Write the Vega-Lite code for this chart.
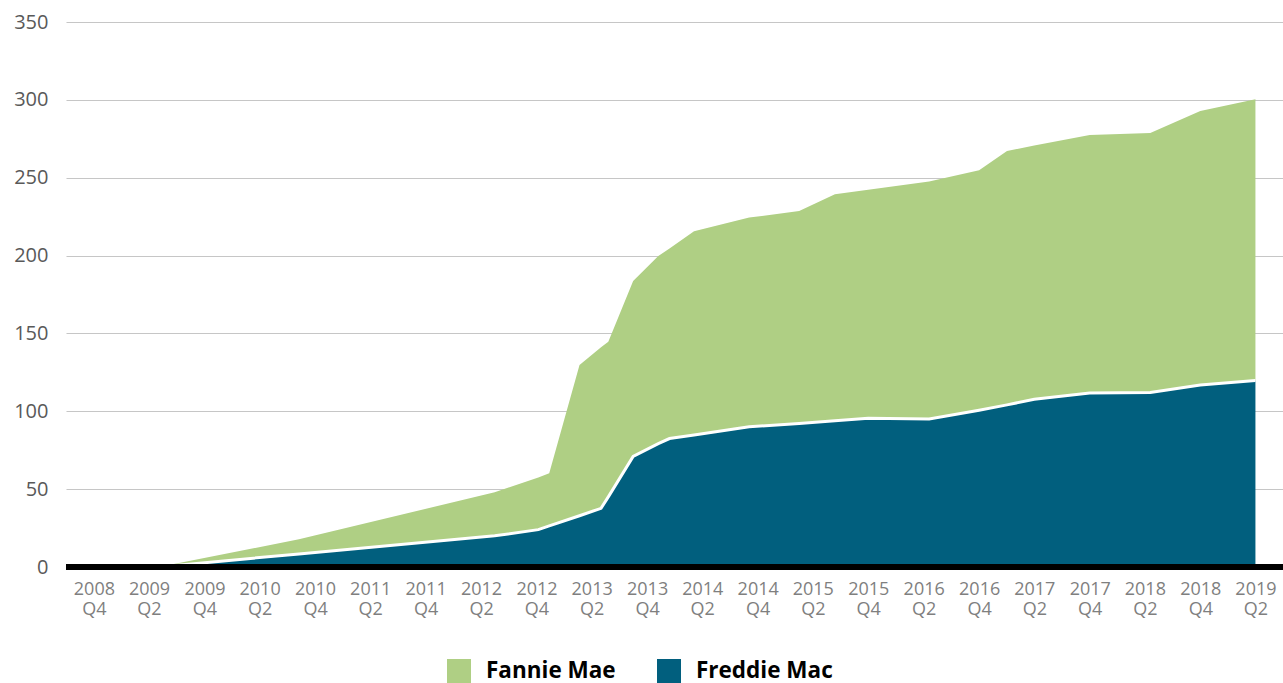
{
  "$schema": "https://vega.github.io/schema/vega-lite/v6.json",
  "width": 1217,
  "height": 545,
  "autosize": {"type": "none"},
  "padding": {"left": 66, "top": 22, "right": 0, "bottom": 116},
  "background": "white",
  "config": {"view": {"stroke": null}, "font": "Open Sans"},
  "data": {
    "values": [
      {"date": "2008-10-01", "series": "Freddie Mac", "value": 0},
      {"date": "2009-05-03", "series": "Freddie Mac", "value": 0},
      {"date": "2010-08-09", "series": "Freddie Mac", "value": 8.4},
      {"date": "2012-05-16", "series": "Freddie Mac", "value": 20},
      {"date": "2012-10-07", "series": "Freddie Mac", "value": 24},
      {"date": "2012-11-12", "series": "Freddie Mac", "value": 26.4},
      {"date": "2013-02-20", "series": "Freddie Mac", "value": 32.9},
      {"date": "2013-05-02", "series": "Freddie Mac", "value": 37.7},
      {"date": "2013-05-26", "series": "Freddie Mac", "value": 45},
      {"date": "2013-08-16", "series": "Freddie Mac", "value": 71},
      {"date": "2013-11-07", "series": "Freddie Mac", "value": 79.2},
      {"date": "2013-12-14", "series": "Freddie Mac", "value": 82.5},
      {"date": "2014-03-05", "series": "Freddie Mac", "value": 84.8},
      {"date": "2014-09-03", "series": "Freddie Mac", "value": 90},
      {"date": "2015-02-15", "series": "Freddie Mac", "value": 92.2},
      {"date": "2015-06-13", "series": "Freddie Mac", "value": 93.9},
      {"date": "2015-10-01", "series": "Freddie Mac", "value": 95.5},
      {"date": "2016-04-19", "series": "Freddie Mac", "value": 95},
      {"date": "2016-10-01", "series": "Freddie Mac", "value": 100.7},
      {"date": "2017-01-01", "series": "Freddie Mac", "value": 104.1},
      {"date": "2017-04-01", "series": "Freddie Mac", "value": 107.7},
      {"date": "2017-10-01", "series": "Freddie Mac", "value": 111.7},
      {"date": "2018-04-19", "series": "Freddie Mac", "value": 112},
      {"date": "2018-10-01", "series": "Freddie Mac", "value": 116.9},
      {"date": "2019-04-01", "series": "Freddie Mac", "value": 119.7},
      {"date": "2008-10-01", "series": "Fannie Mae", "value": 0},
      {"date": "2009-05-03", "series": "Fannie Mae", "value": 0},
      {"date": "2010-08-09", "series": "Fannie Mae", "value": 9.4},
      {"date": "2012-05-16", "series": "Fannie Mae", "value": 28},
      {"date": "2012-10-07", "series": "Fannie Mae", "value": 33.5},
      {"date": "2012-11-12", "series": "Fannie Mae", "value": 33.8},
      {"date": "2013-02-20", "series": "Fannie Mae", "value": 96.8},
      {"date": "2013-05-02", "series": "Fannie Mae", "value": 103.4},
      {"date": "2013-05-26", "series": "Fannie Mae", "value": 99.7},
      {"date": "2013-08-16", "series": "Fannie Mae", "value": 112.7},
      {"date": "2013-11-07", "series": "Fannie Mae", "value": 120.5},
      {"date": "2013-12-14", "series": "Fannie Mae", "value": 122.1},
      {"date": "2014-03-05", "series": "Fannie Mae", "value": 130.8},
      {"date": "2014-09-03", "series": "Fannie Mae", "value": 134.4},
      {"date": "2015-02-15", "series": "Fannie Mae", "value": 136.4},
      {"date": "2015-06-13", "series": "Fannie Mae", "value": 145.5},
      {"date": "2015-10-01", "series": "Fannie Mae", "value": 146.7},
      {"date": "2016-04-19", "series": "Fannie Mae", "value": 152.5},
      {"date": "2016-10-01", "series": "Fannie Mae", "value": 154.1},
      {"date": "2017-01-01", "series": "Fannie Mae", "value": 163.1},
      {"date": "2017-04-01", "series": "Fannie Mae", "value": 163},
      {"date": "2017-10-01", "series": "Fannie Mae", "value": 165.8},
      {"date": "2018-04-19", "series": "Fannie Mae", "value": 166.7},
      {"date": "2018-10-01", "series": "Fannie Mae", "value": 176},
      {"date": "2019-04-01", "series": "Fannie Mae", "value": 180.7}
    ]
  },
  "layer": [
    {
      "mark": {"type": "area", "interpolate": "linear"},
      "encoding": {
        "x": {
          "field": "date",
          "type": "temporal",
          "scale": {
            "type": "utc",
            "domain": [
              {"year": 2008, "month": 7, "date": 1, "utc": true},
              {"year": 2019, "month": 7, "date": 1, "utc": true}
            ]
          },
          "axis": {
            "title": null,
            "values": [
              {"year": 2008, "month": 10, "date": 1, "utc": true},
              {"year": 2009, "month": 4, "date": 1, "utc": true},
              {"year": 2009, "month": 10, "date": 1, "utc": true},
              {"year": 2010, "month": 4, "date": 1, "utc": true},
              {"year": 2010, "month": 10, "date": 1, "utc": true},
              {"year": 2011, "month": 4, "date": 1, "utc": true},
              {"year": 2011, "month": 10, "date": 1, "utc": true},
              {"year": 2012, "month": 4, "date": 1, "utc": true},
              {"year": 2012, "month": 10, "date": 1, "utc": true},
              {"year": 2013, "month": 4, "date": 1, "utc": true},
              {"year": 2013, "month": 10, "date": 1, "utc": true},
              {"year": 2014, "month": 4, "date": 1, "utc": true},
              {"year": 2014, "month": 10, "date": 1, "utc": true},
              {"year": 2015, "month": 4, "date": 1, "utc": true},
              {"year": 2015, "month": 10, "date": 1, "utc": true},
              {"year": 2016, "month": 4, "date": 1, "utc": true},
              {"year": 2016, "month": 10, "date": 1, "utc": true},
              {"year": 2017, "month": 4, "date": 1, "utc": true},
              {"year": 2017, "month": 10, "date": 1, "utc": true},
              {"year": 2018, "month": 4, "date": 1, "utc": true},
              {"year": 2018, "month": 10, "date": 1, "utc": true},
              {"year": 2019, "month": 4, "date": 1, "utc": true}
            ],
            "labelExpr": "[utcFormat(datum.value, '%Y'), 'Q' + utcquarter(datum.value)]",
            "ticks": false,
            "domain": false,
            "grid": false,
            "labelFont": "Open Sans",
            "labelFontSize": 18,
            "labelColor": "#7f7f7f",
            "labelPadding": 13,
            "labelLineHeight": 20,
            "labelFlush": false,
            "labelOverlap": false
          }
        },
        "y": {
          "field": "value",
          "type": "quantitative",
          "stack": "zero",
          "scale": {"domain": [0, 350], "nice": false},
          "axis": {
            "title": null,
            "values": [0, 50, 100, 150, 200, 250, 300, 350],
            "ticks": false,
            "domain": false,
            "gridColor": "#c6c6c6",
            "gridWidth": 1.2,
            "labelFont": "Open Sans",
            "labelFontSize": 20,
            "labelColor": "#595959",
            "labelPadding": 18
          }
        },
        "color": {
          "field": "series",
          "type": "nominal",
          "scale": {"domain": ["Fannie Mae", "Freddie Mac"], "range": ["#afcf84", "#015f7e"]},
          "legend": {
            "title": null,
            "orient": "none",
            "legendX": 381,
            "legendY": 637,
            "direction": "horizontal",
            "symbolType": "square",
            "symbolSize": 576,
            "symbolStrokeWidth": 0,
            "labelFont": "Open Sans",
            "labelFontSize": 22.5,
            "labelFontWeight": "bold",
            "labelColor": "#000000",
            "labelOffset": 15,
            "columnPadding": 41,
            "padding": 0,
            "labelLimit": 400
          }
        },
        "order": {"field": "series", "sort": "descending"}
      }
    },
    {
      "transform": [{"filter": "datum.series === 'Freddie Mac'"}],
      "mark": {"type": "line", "color": "white", "strokeWidth": 3, "interpolate": "linear"},
      "encoding": {
        "x": {"field": "date", "type": "temporal"},
        "y": {"field": "value", "type": "quantitative"}
      }
    },
    {
      "mark": {"type": "rule", "color": "black", "strokeWidth": 4.5},
      "encoding": {"y": {"datum": 0}}
    }
  ]
}
